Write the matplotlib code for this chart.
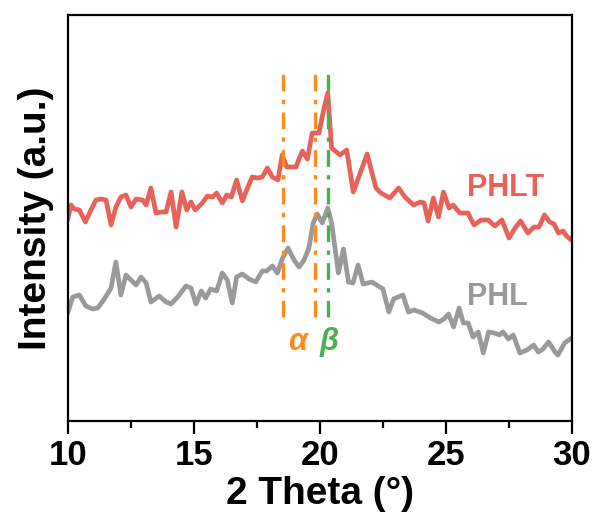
import matplotlib
matplotlib.use("Agg")
import matplotlib.pyplot as plt

plt.rcParams['font.family'] = ['Liberation Sans', 'DejaVu Sans']
plt.rcParams['font.weight'] = 'bold'

# XRD patterns (2 theta in degrees, intensity in a.u.)
phlt_theta = [10.00, 10.12, 10.25, 10.45, 10.69, 10.91, 11.11, 11.31, 11.51, 11.71,
              11.90, 12.10, 12.30, 12.50, 12.70, 12.96, 13.10, 13.29, 13.49, 13.69,
              13.89, 14.09, 14.29, 14.52, 14.71, 14.88, 15.05, 15.33, 15.53, 15.73,
              15.90, 16.12, 16.30, 16.48, 16.69, 16.92, 17.12, 17.31, 17.51, 17.71,
              17.91, 18.11, 18.33, 18.50, 18.68, 19.04, 19.30, 19.50, 19.69, 19.96,
              20.16, 20.31, 20.46, 20.79, 21.06, 21.32, 21.87, 22.22, 22.42, 22.77,
              23.12, 23.37, 23.71, 23.99, 24.13, 24.29, 24.50, 24.70, 24.90, 25.12,
              25.28, 25.55, 25.87, 26.11, 26.39, 26.67, 26.94, 27.22, 27.50, 27.74,
              27.96, 28.25, 28.49, 28.69, 28.91, 29.11, 29.29, 29.46, 29.65, 29.78,
              29.98]
phlt_int = [203, 216, 212, 211, 199, 211, 221, 222, 221, 196,
            214, 224, 226, 214, 222, 221, 216, 233, 208, 209,
            209, 229, 194, 229, 211, 219, 211, 218, 225, 224,
            228, 218, 226, 224, 241, 220, 233, 244, 243, 244,
            253, 244, 241, 266, 254, 254, 270, 262, 288, 288,
            313, 328, 273, 266, 271, 229, 267, 233, 228, 223,
            233, 224, 216, 219, 218, 200, 223, 204, 229, 213,
            216, 208, 208, 196, 201, 201, 195, 201, 183, 193,
            200, 188, 194, 194, 206, 199, 197, 188, 190, 185,
            181]

phl_theta = [10.00, 10.19, 10.45, 10.71, 10.98, 11.18, 11.44, 11.71, 11.90, 12.10,
             12.30, 12.70, 12.90, 13.10, 13.29, 13.62, 13.89, 14.09, 14.35, 14.68,
             14.88, 15.08, 15.29, 15.46, 15.66, 15.90, 16.12, 16.32, 16.52, 16.69,
             16.92, 17.18, 17.45, 17.71, 17.88, 18.11, 18.31, 18.50, 18.73, 18.97,
             19.17, 19.37, 19.56, 19.73, 19.89, 20.09, 20.31, 20.46, 20.73, 20.93,
             21.13, 21.31, 21.51, 21.71, 22.06, 22.50, 22.73, 22.92, 23.29, 23.51,
             23.73, 24.07, 24.38, 24.72, 24.92, 25.10, 25.30, 25.52, 25.69, 25.88,
             26.07, 26.28, 26.48, 26.69, 26.92, 27.12, 27.26, 27.48, 27.67, 27.93,
             28.21, 28.48, 28.66, 28.85, 29.07, 29.33, 29.44, 29.71, 29.98]
phl_int = [109, 124, 126, 115, 112, 113, 122, 133, 159, 126,
           146, 136, 144, 138, 119, 125, 119, 117, 124, 135,
           133, 117, 130, 123, 132, 130, 148, 141, 118, 144,
           147, 142, 139, 150, 150, 155, 148, 162, 173, 161,
           154, 161, 173, 198, 207, 198, 213, 198, 148, 172,
           139, 138, 156, 137, 139, 132, 109, 122, 126, 109,
           111, 108, 103, 99, 102, 107, 94, 113, 98, 98,
           84, 89, 68, 89, 88, 86, 89, 82, 86, 68,
           71, 76, 69, 72, 79, 69, 66, 78, 83]

# reference peak positions
alpha_peaks = [18.53, 19.81]
beta_peaks = [20.33]
ref_line_lo, ref_line_hi = 104, 353

red = '#E9625A'
grey = '#9A9A9A'
orange = '#FF8C1A'
green = '#4CAF50'

fig = plt.figure(figsize=(5.95, 5.27), dpi=100)
ax = fig.add_axes([68 / 595, 106 / 527, 504 / 595, 406 / 527])

ax.plot(phlt_theta, phlt_int, color=red, lw=3.4, solid_joinstyle='round')
ax.plot(phl_theta, phl_int, color=grey, lw=3.4, solid_joinstyle='round')

dashdot = (0, (5, 2.5, 1.3, 2.5))
for p in alpha_peaks:
    ax.vlines(p, ref_line_lo, ref_line_hi, color=orange, lw=2.4, linestyles=dashdot)
for p in beta_peaks:
    ax.vlines(p, ref_line_lo, ref_line_hi, color=green, lw=2.4, linestyles=dashdot)

ax.text(19.1, 79, 'α', color=orange, fontsize=22,
        style='italic', fontweight='bold', ha='center', va='center')
ax.text(20.35, 79, 'β', color=green, fontsize=22,
        style='italic', fontweight='bold', ha='center', va='center')

ax.text(25.85, 233, 'PHLT', color=red, fontsize=22, fontweight='bold',
        ha='left', va='center')
ax.text(25.85, 124, 'PHL', color=grey, fontsize=22, fontweight='bold',
        ha='left', va='center')

ax.set_xlim(10, 30)
ax.set_ylim(0, 406)
ax.set_xticks([10, 15, 20, 25, 30])
ax.set_xticks([12.5, 17.5, 22.5, 27.5], minor=True)
ax.set_yticks([])
ax.tick_params(axis='x', which='major', direction='out', length=9, width=1.6,
               labelsize=25, pad=4)
ax.tick_params(axis='x', which='minor', direction='out', length=5, width=1.6)
for lab in ax.get_xticklabels():
    lab.set_fontweight('bold')
for s in ax.spines.values():
    s.set_linewidth(1.6)

ax.set_xlabel('2 Theta (°)', fontsize=28, fontweight='bold', labelpad=3)
ax.set_ylabel('Intensity (a.u.)', fontsize=28, fontweight='bold', labelpad=10)

fig.savefig('out.png', dpi=100)
